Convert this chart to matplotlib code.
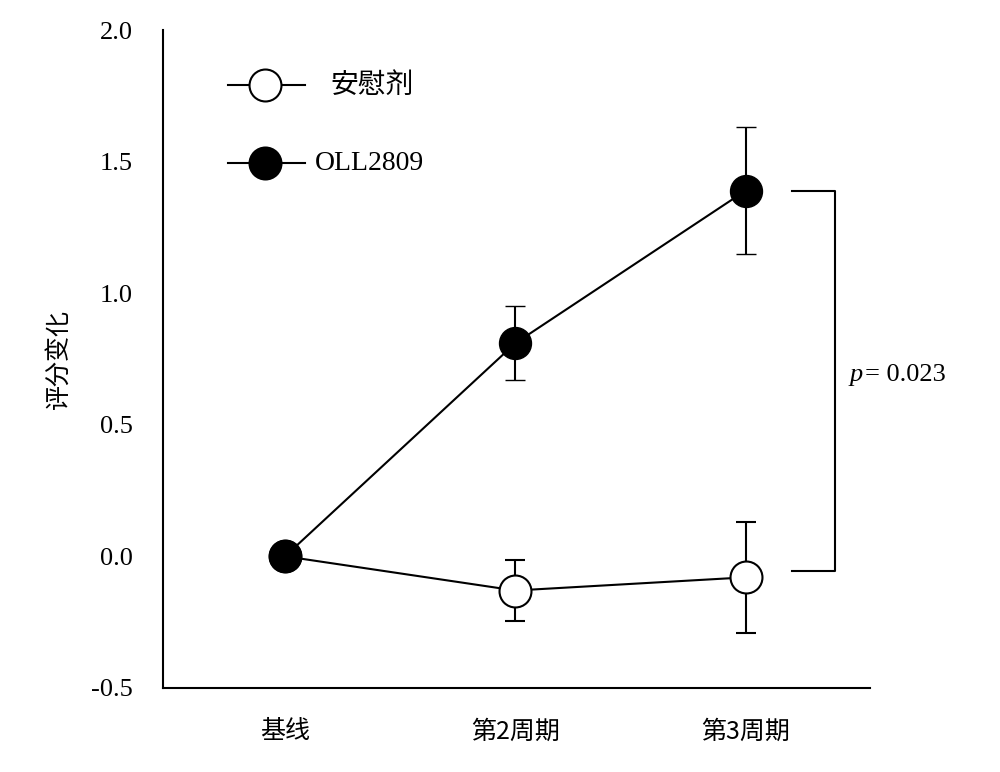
import matplotlib
matplotlib.use("Agg")
import matplotlib.pyplot as plt

categories = ["基线", "第2周期", "第3周期"]
oll = [0.0, 0.81, 1.39]
oll_err = [0.0, 0.14, 0.24]
placebo = [0.0, -0.13, -0.08]
placebo_err = [0.0, 0.115, 0.21]
yticks = [-0.5, 0.0, 0.5, 1.0, 1.5, 2.0]

fig = plt.figure(figsize=(10, 7.72), dpi=100)
ax = fig.add_axes([0.163, 0.109, 0.707, 0.852])
x = list(range(len(categories)))
cjk = ["Noto Sans CJK SC", "Noto Sans CJK JP", "Noto Sans CJK TC", "Noto Sans CJK KR", "DejaVu Sans"]
serif = ["Liberation Serif", "DejaVu Serif"]
MS = 23

ax.errorbar(x, placebo, yerr=placebo_err, color="black", lw=1.5, marker="o", ms=MS,
            mfc="white", mec="black", mew=1.5, capsize=7, elinewidth=1.5, zorder=3)
ax.errorbar(x, oll, yerr=oll_err, color="black", lw=1.5, marker="o", ms=MS,
            mfc="black", mec="black", capsize=7, elinewidth=1.5, zorder=4)

ax.set_xlim(-0.53, 2.54)
ax.set_ylim(-0.5, 2.0)
ax.set_yticks(yticks)
ax.set_yticklabels([f"{v:.1f}" for v in yticks], fontfamily=serif, fontsize=19)
ax.set_xticks(x)
ax.set_xticklabels(categories, fontfamily=cjk, fontsize=18)
ax.tick_params(axis="y", length=0, pad=22)
ax.tick_params(axis="x", length=0, pad=22)
for s in ["top", "right"]:
    ax.spines[s].set_visible(False)
ax.spines["left"].set_linewidth(1.5)
ax.spines["bottom"].set_linewidth(1.5)
ax.set_ylabel("评分变化", fontfamily=cjk, fontsize=18, labelpad=14)

# bracket
bx0, bx1 = 2.2, 2.39
ax.plot([bx0, bx1, bx1, bx0], [oll[2], oll[2], -0.055, -0.055], color="black", lw=1.5, clip_on=False)
ax.text(2.45, 0.69, "p", fontfamily=serif, fontstyle="italic", fontsize=19, va="center", ha="left")
ax.text(2.52, 0.69, "= 0.023", fontfamily=serif, fontsize=19, va="center", ha="left")

# manual legend
for yy, fc, lab, ff in [(1.79, "white", "安慰剂", cjk), (1.494, "black", "OLL2809", serif)]:
    ax.plot([-0.248, 0.087], [yy, yy], color="black", lw=1.5)
    ax.plot([-0.087], [yy], marker="o", ms=MS, mfc=fc, mec="black", mew=1.5, color="black")
    ax.text(0.196 if ff is cjk else 0.13, yy, lab, fontfamily=ff, fontsize=20, va="center", ha="left")

fig.savefig("out.png", dpi=100)
